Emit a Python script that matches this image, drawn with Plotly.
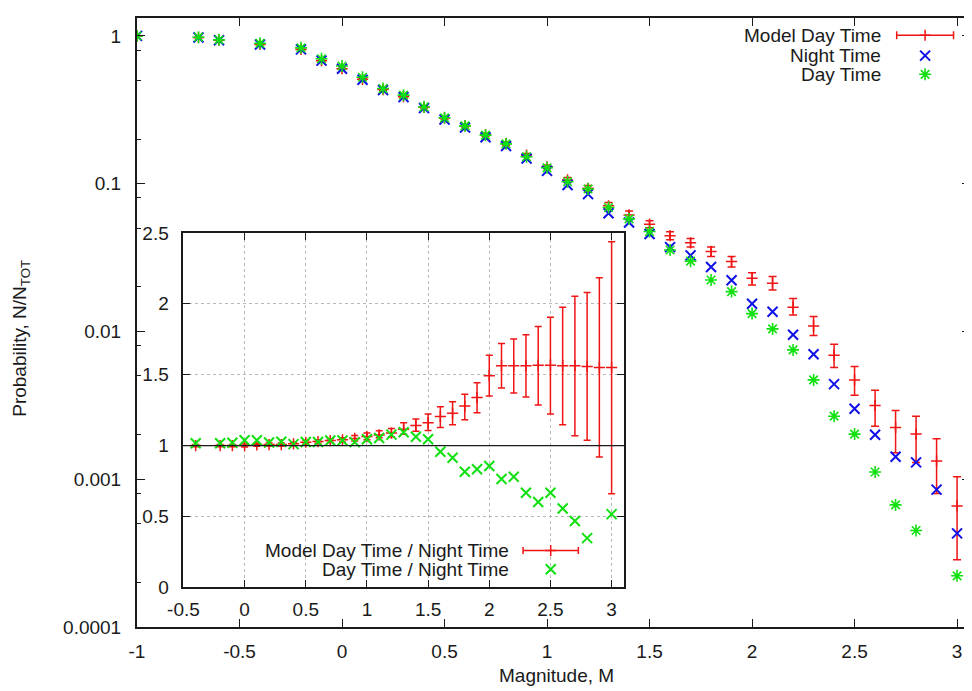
import plotly.graph_objects as go

# ---------------- data ----------------
mag = [-1.0, -0.7, -0.6, -0.4, -0.2, -0.1, 0.0, 0.1, 0.2, 0.3, 0.4, 0.5, 0.6, 0.7,
       0.8, 0.9, 1.0, 1.1, 1.2, 1.3, 1.4, 1.5, 1.6, 1.7, 1.8, 1.9, 2.0, 2.1, 2.2,
       2.3, 2.4, 2.5, 2.6, 2.7, 2.8, 2.9, 3.0]

night_time = [1.0, 0.975, 0.935, 0.875, 0.81, 0.68, 0.60, 0.505, 0.43, 0.385, 0.325,
              0.272, 0.24, 0.206, 0.18, 0.148, 0.122, 0.098, 0.085, 0.063, 0.0546,
              0.0456, 0.0372, 0.0327, 0.0273, 0.0222, 0.0154, 0.0136, 0.0095, 0.0070,
              0.0044, 0.0030, 0.0020, 0.00142, 0.00130, 0.00085, 0.00043]

day_time = [1.0, 0.98, 0.94, 0.89, 0.83, 0.70, 0.625, 0.525, 0.44, 0.397, 0.33,
            0.279, 0.246, 0.213, 0.186, 0.152, 0.128, 0.103, 0.092, 0.069, 0.0578,
            0.0474, 0.0356, 0.0299, 0.0223, 0.0186, 0.0132, 0.0104, 0.0075, 0.0047,
            0.00267, 0.00202, 0.00112, 0.00067, 0.00045, None, 0.000222]

model_day = [1.0, 0.975, 0.935, 0.875, 0.81, 0.68, 0.60, 0.508, 0.433, 0.388, 0.33,
             0.278, 0.247, 0.214, 0.187, 0.156, 0.130, 0.106, 0.093, 0.0708, 0.0614,
             0.0532, 0.0445, 0.0398, 0.0348, 0.0297, 0.0229, 0.0212, 0.0146, 0.0109,
             0.0069, 0.0047, 0.00315, 0.00224, 0.00202, 0.00133, 0.00066]
model_day_hi = [1.005, 0.98, 0.94, 0.88, 0.815, 0.685, 0.605, 0.513, 0.438, 0.393, 0.335,
                0.283, 0.252, 0.219, 0.192, 0.160, 0.134, 0.110, 0.097, 0.0745, 0.0652,
                0.0560, 0.0472, 0.0426, 0.0373, 0.0322, 0.0250, 0.0235, 0.0167, 0.0126,
                0.0082, 0.0058, 0.0040, 0.00292, 0.00267, 0.00188, 0.00104]
model_day_lo = [0.995, 0.97, 0.93, 0.87, 0.805, 0.675, 0.595, 0.503, 0.428, 0.383, 0.325,
                0.273, 0.242, 0.209, 0.182, 0.152, 0.126, 0.102, 0.089, 0.0672, 0.0578,
                0.0504, 0.0418, 0.0373, 0.0322, 0.0273, 0.0206, 0.0191, 0.0129, 0.0094,
                0.0057, 0.0037, 0.00228, 0.00151, 0.00130, 0.00080, 0.000285]

inset_mag = [-0.4, -0.2, -0.1, 0.0, 0.1, 0.2, 0.3, 0.4, 0.5, 0.6, 0.7, 0.8, 0.9, 1.0,
             1.1, 1.2, 1.3, 1.4, 1.5, 1.6, 1.7, 1.8, 1.9, 2.0, 2.1, 2.2, 2.3, 2.4,
             2.5, 2.6, 2.7, 2.8, 2.9, 3.0]
ratio_day = [1.016, 1.016, 1.02, 1.037, 1.037, 1.021, 1.027, 1.01, 1.025, 1.025, 1.035,
             1.035, 1.024, 1.044, 1.053, 1.077, 1.094, 1.062, 1.044, 0.956, 0.914, 0.815,
             0.833, 0.856, 0.764, 0.78, 0.667, 0.602, 0.667, 0.556, 0.468, 0.347, None,
             0.516]
ratio_model = [1.0, 1.0, 1.0, 1.0, 1.005, 1.007, 1.007, 1.012, 1.023, 1.028, 1.035, 1.04,
               1.05, 1.063, 1.075, 1.088, 1.115, 1.142, 1.16, 1.204, 1.227, 1.278, 1.338,
               1.493, 1.563, 1.563, 1.563, 1.567, 1.567, 1.563, 1.563, 1.558, 1.551, 1.551]
ratio_model_hi = [1.008, 1.008, 1.008, 1.01, 1.015, 1.017, 1.018, 1.023, 1.035, 1.04, 1.048,
                  1.055, 1.07, 1.088, 1.104, 1.12, 1.16, 1.188, 1.222, 1.273, 1.308, 1.361,
                  1.442, 1.637, 1.72, 1.752, 1.782, 1.84, 1.905, 1.975, 2.053, 2.079, 2.183,
                  2.438]
ratio_model_lo = [0.992, 0.992, 0.992, 0.99, 0.995, 0.997, 0.996, 1.001, 1.011, 1.016, 1.022,
                  1.025, 1.032, 1.04, 1.055, 1.062, 1.08, 1.1, 1.106, 1.127, 1.146, 1.181,
                  1.231, 1.35, 1.405, 1.37, 1.343, 1.285, 1.222, 1.146, 1.069, 1.037, 0.919,
                  0.66]

main_xticks = [-1, -0.5, 0, 0.5, 1, 1.5, 2, 2.5, 3]
main_xticklabels = ["-1", "-0.5", "0", "0.5", "1", "1.5", "2", "2.5", "3"]
main_yticks = [1e-4, 1e-3, 1e-2, 1e-1, 1]
main_yticklabels = ["0.0001", "0.001", "0.01", "0.1", "1"]
inset_xticks = [-0.5, 0, 0.5, 1, 1.5, 2, 2.5, 3]
inset_xticklabels = ["-0.5", "0", "0.5", "1", "1.5", "2", "2.5", "3"]
inset_yticks = [0, 0.5, 1, 1.5, 2, 2.5]
inset_yticklabels = ["0", "0.5", "1", "1.5", "2", "2.5"]

legend_main = ["Model Day Time", "Night Time", "Day Time"]
legend_inset = ["Model Day Time / Night Time", "Day Time / Night Time"]

# ---------------- layout geometry (page pixels) ----------------
PAGE_OFF = 8          # default body margin of the html page
W, H = 972 - PAGE_OFF, 691 - PAGE_OFF
ML, MR, MT, MB = 137.0, 972.0, 8.5, 627.0
X_RANGE = [-1.0, 3.063]
Y_LOG_RANGE = [-4.0, 0.121]
IL, IR, IT, IB = 182.7, 625.0, 226.7, 586.7
IX_RANGE = [-0.507, 3.1]
IY_RANGE = [0.0, 2.5]

RED = "#f01414"
BLUE = "#1010e8"
GREEN = "#10e010"
INK = "#1a1a1a"
FONT = "Liberation Sans, Arial, Helvetica, sans-serif"
FS = 19


def main_px(px, py):
    x = X_RANGE[0] + (px - ML) / (MR - ML) * (X_RANGE[1] - X_RANGE[0])
    ly = Y_LOG_RANGE[0] + (MB - py) / (MB - MT) * (Y_LOG_RANGE[1] - Y_LOG_RANGE[0])
    return x, 10 ** ly


def inset_px(px, py):
    x = IX_RANGE[0] + (px - IL) / (IR - IL) * (IX_RANGE[1] - IX_RANGE[0])
    y = IY_RANGE[0] + (IB - py) / (IB - IT) * (IY_RANGE[1] - IY_RANGE[0])
    return x, y


def paper_x(px):
    return (px - ML) / (MR - ML)


def paper_y(py):
    return (MB - py) / (MB - MT)


def mk(symbol, color, size, width):
    return dict(symbol=symbol, color=color, size=size, line=dict(color=color, width=width))


fig = go.Figure()

# ---------------- main traces ----------------
fig.add_trace(go.Scatter(
    x=mag, y=model_day, mode="markers", xaxis="x", yaxis="y", showlegend=False,
    marker=mk("cross-thin-open", RED, 8, 1.5),
    error_y=dict(type="data", symmetric=False,
                 array=[h - v for h, v in zip(model_day_hi, model_day)],
                 arrayminus=[v - l for v, l in zip(model_day, model_day_lo)],
                 color=RED, thickness=1.5, width=4),
))
fig.add_trace(go.Scatter(
    x=mag, y=night_time, mode="markers", xaxis="x", yaxis="y", showlegend=False,
    marker=mk("x-thin-open", BLUE, 10, 2),
))
fig.add_trace(go.Scatter(
    x=mag, y=day_time, mode="markers", xaxis="x", yaxis="y", showlegend=False,
    marker=mk("asterisk-open", GREEN, 10, 1.6),
))

# main legend samples
lx, ly = main_px(927, 26)
half = main_px(927 + 28.5, 26)[0] - lx
fig.add_trace(go.Scatter(
    x=[lx], y=[ly], mode="markers", xaxis="x", yaxis="y", showlegend=False,
    marker=mk("cross-thin-open", RED, 8, 1.5),
    error_x=dict(type="data", array=[half], color=RED, thickness=1.5, width=4),
))
bx, by = main_px(927, 46.7)
fig.add_trace(go.Scatter(
    x=[bx], y=[by], mode="markers", xaxis="x", yaxis="y", showlegend=False,
    marker=mk("x-thin-open", BLUE, 10, 2),
))
gx, gy = main_px(927, 65.7)
fig.add_trace(go.Scatter(
    x=[gx], y=[gy], mode="markers", xaxis="x", yaxis="y", showlegend=False,
    marker=mk("asterisk-open", GREEN, 10, 1.6),
))

# ---------------- inset traces ----------------
fig.add_trace(go.Scatter(
    x=inset_mag, y=ratio_model, mode="markers", xaxis="x2", yaxis="y2", showlegend=False,
    marker=mk("cross-thin-open", RED, 8, 1.5),
    error_y=dict(type="data", symmetric=False,
                 array=[h - v for h, v in zip(ratio_model_hi, ratio_model)],
                 arrayminus=[v - l for v, l in zip(ratio_model, ratio_model_lo)],
                 color=RED, thickness=1.5, width=3.5),
))
fig.add_trace(go.Scatter(
    x=inset_mag, y=ratio_day, mode="markers", xaxis="x2", yaxis="y2", showlegend=False,
    marker=mk("x-thin-open", GREEN, 10, 2),
))

# inset legend samples
ix, iy = inset_px(551.7, 549.3)
ihalf = inset_px(551.7 + 27.7, 549.3)[0] - ix
fig.add_trace(go.Scatter(
    x=[ix], y=[iy], mode="markers", xaxis="x2", yaxis="y2", showlegend=False,
    marker=mk("cross-thin-open", RED, 8, 1.5),
    error_x=dict(type="data", array=[ihalf], color=RED, thickness=1.5, width=3.5),
))
jx, jy = inset_px(551.7, 568.3)
fig.add_trace(go.Scatter(
    x=[jx], y=[jy], mode="markers", xaxis="x2", yaxis="y2", showlegend=False,
    marker=mk("x-thin-open", GREEN, 10, 2),
))

# ---------------- annotations ----------------
ann = []
for text, py in zip(legend_main, [26, 46.7, 65.7]):
    ann.append(dict(text=text, xref="paper", yref="paper", x=paper_x(885), y=paper_y(py),
                    xanchor="right", yanchor="middle", showarrow=False,
                    font=dict(family=FONT, size=FS, color=INK)))
for text, py in zip(legend_inset, [549.3, 568.3]):
    ann.append(dict(text=text, xref="paper", yref="paper", x=paper_x(512), y=paper_y(py),
                    xanchor="right", yanchor="middle", showarrow=False,
                    font=dict(family=FONT, size=FS, color=INK)))
ann.append(dict(text="Magnitude, M", xref="paper", yref="paper", x=paper_x(558),
                y=paper_y(676), xanchor="center", yanchor="middle", showarrow=False,
                font=dict(family=FONT, size=FS, color=INK)))
ann.append(dict(text="Probability, N/N<sub>TOT</sub>", xref="paper", yref="paper",
                x=paper_x(20), y=paper_y(334), xanchor="center", yanchor="middle",
                textangle=-90, showarrow=False,
                font=dict(family=FONT, size=FS, color=INK)))

minor_vals = []
for k in range(-4, 1):
    for m in (2, 5, 8):
        v = m * 10 ** (k - 1)
        if 1e-4 < v < 1.3:
            minor_vals.append(v)

axis_common = dict(showline=True, linecolor=INK, linewidth=2, mirror="allticks",
                   ticks="inside", tickcolor=INK, tickwidth=1.2, zeroline=False,
                   tickfont=dict(family=FONT, size=FS, color=INK), tickmode="array")

fig.update_layout(
    width=W, height=H,
    margin=dict(l=ML - PAGE_OFF, r=972 - MR, t=MT - PAGE_OFF, b=691 - MB, pad=0),
    paper_bgcolor="white", plot_bgcolor="white",
    showlegend=False,
    font=dict(family=FONT, size=FS, color=INK),
    xaxis=dict(domain=[0, 1], range=X_RANGE, anchor="y", tickvals=main_xticks,
               ticktext=main_xticklabels, ticklen=8, showgrid=False,
               ticklabelstandoff=6, **axis_common),
    yaxis=dict(domain=[0, 1], type="log", range=Y_LOG_RANGE, anchor="x",
               tickvals=main_yticks, ticktext=main_yticklabels, ticklen=8,
               showgrid=False, ticklabelstandoff=10,
               minor=dict(tickvals=minor_vals, ticklen=4, ticks="inside",
                          tickcolor=INK, tickwidth=1.2, showgrid=False),
               **axis_common),
    xaxis2=dict(domain=[paper_x(IL), paper_x(IR)], range=IX_RANGE, anchor="y2",
                tickvals=inset_xticks, ticktext=inset_xticklabels, ticklen=7,
                showgrid=True, gridcolor="#b8b8b8", griddash="dot", gridwidth=1,
                ticklabelstandoff=4, **axis_common),
    yaxis2=dict(domain=[paper_y(IB), paper_y(IT)], range=IY_RANGE, anchor="x2",
                tickvals=inset_yticks, ticktext=inset_yticklabels, ticklen=7,
                showgrid=True, gridcolor="#b8b8b8", griddash="dot", gridwidth=1,
                ticklabelstandoff=8, **axis_common),
    annotations=ann,
    shapes=[dict(type="line", xref="x2 domain", x0=0, x1=1, yref="y2", y0=1, y1=1,
                 line=dict(color=INK, width=1.3), layer="above")],
)

fig.write_html("out.html")
